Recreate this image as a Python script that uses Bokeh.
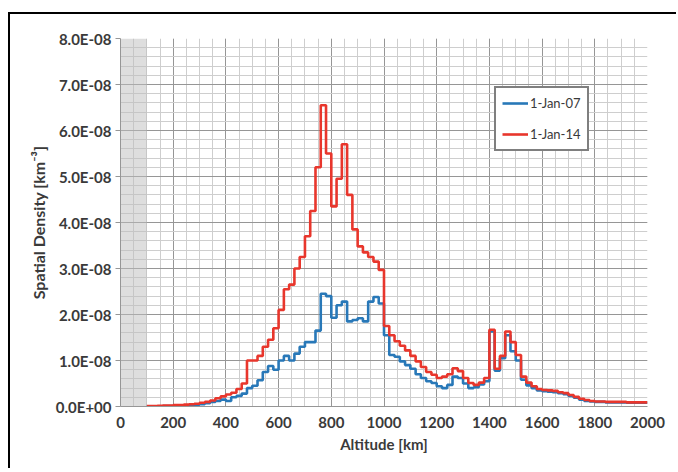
from bokeh.plotting import figure
from bokeh.models import Range1d, FixedTicker, CustomJSTickFormatter, Legend, LegendItem
from bokeh.embed import file_html
from bokeh.resources import INLINE

# Altitude bin starts [km] (20 km bins, 100-2000 km)
bin_start = list(range(100, 2000, 20))
bin_width = 20

# Spatial density in units of 1e-8 km^-3
jan07 = [0.005, 0.005, 0.005, 0.01, 0.01, 0.015, 0.02, 0.025, 0.03, 0.04,
         0.05, 0.07, 0.10, 0.12, 0.15, 0.12, 0.20, 0.23, 0.28, 0.40,
         0.45, 0.57, 0.75, 0.88, 0.80, 1.00, 1.10, 1.00, 1.15, 1.30,
         1.40, 1.40, 1.65, 2.45, 2.40, 1.93, 2.20, 2.28, 1.85, 1.88,
         1.92, 1.85, 2.28, 2.38, 2.24, 1.55, 1.12, 1.08, 0.98, 0.90,
         0.82, 0.70, 0.62, 0.55, 0.51, 0.44, 0.40, 0.47, 0.65, 0.62,
         0.50, 0.40, 0.42, 0.48, 0.55, 1.63, 0.78, 1.05, 1.55, 1.20,
         1.00, 0.58, 0.46, 0.40, 0.35, 0.33, 0.32, 0.31, 0.29, 0.27,
         0.23, 0.19, 0.15, 0.12, 0.11, 0.10, 0.10, 0.09, 0.09, 0.09,
         0.09, 0.08, 0.08, 0.08, 0.08]
jan14 = [0.01, 0.01, 0.015, 0.02, 0.02, 0.03, 0.03, 0.04, 0.05, 0.06,
         0.08, 0.10, 0.13, 0.18, 0.22, 0.26, 0.30, 0.38, 0.50, 1.00,
         1.00, 1.10, 1.30, 1.45, 1.70, 2.10, 2.55, 2.65, 3.00, 3.25,
         3.70, 4.25, 5.20, 6.55, 5.50, 4.35, 4.95, 5.70, 4.60, 3.85,
         3.48, 3.35, 3.25, 3.15, 2.97, 1.75, 1.55, 1.42, 1.32, 1.22,
         1.10, 0.98, 0.86, 0.75, 0.69, 0.62, 0.65, 0.70, 0.83, 0.77,
         0.62, 0.51, 0.47, 0.52, 0.62, 1.67, 0.82, 1.10, 1.63, 1.40,
         1.12, 0.65, 0.52, 0.44, 0.38, 0.36, 0.35, 0.34, 0.31, 0.29,
         0.25, 0.21, 0.17, 0.14, 0.12, 0.11, 0.11, 0.10, 0.10, 0.10,
         0.10, 0.09, 0.09, 0.09, 0.09]
series_names = ["1-Jan-07", "1-Jan-14"]
series_colors = ["#2878b8", "#e8362c"]
scale = 1e-8

x_ticks = list(range(0, 2001, 200))
x_minor = list(range(0, 2001, 50))
y_ticks = [i * scale for i in range(9)]
y_minor = [i * 0.2 * scale for i in range(41)]

FONT = "Lato"
TXT = "#3a3a3a"

p = figure(frame_width=527, frame_height=368, min_border_left=110, min_border_right=29,
           min_border_top=24, min_border_bottom=62,
           output_backend="svg", toolbar_location=None,
           x_range=Range1d(0, 2000), y_range=Range1d(0, 8 * scale))
p.styles = {"border-top": "2px solid black", "border-left": "2px solid black",
            "margin-top": "12px", "margin-left": "8px"}
p.outline_line_color = None
p.background_fill_color = "white"
p.border_fill_color = "white"

# shaded region below 100 km
p.quad(left=[0], right=[bin_start[0]], bottom=[0], top=[8 * scale],
       fill_color="#bdbdbd", fill_alpha=0.5, line_color=None)

renderers = []
for vals, name, col in zip([jan07, jan14], series_names, series_colors):
    xs = bin_start + [bin_start[-1] + bin_width]
    ys = [v * scale for v in vals] + [vals[-1] * scale]
    r = p.step(xs, ys, mode="after", line_color=col, line_width=2.6)
    renderers.append((name, r))

p.xaxis.ticker = FixedTicker(ticks=x_ticks, minor_ticks=x_minor)
p.yaxis.ticker = FixedTicker(ticks=y_ticks, minor_ticks=y_minor)
p.yaxis.formatter = CustomJSTickFormatter(code="""
var s = tick.toExponential(1); var parts = s.split('e');
var e = parseInt(parts[1]); var sign = e < 0 ? '-' : '+'; var a = Math.abs(e);
return parts[0] + 'E' + sign + (a < 10 ? '0' : '') + a;
""")

for g in (p.xgrid, p.ygrid):
    g.grid_line_color = "#969696"
    g.grid_line_width = 1
    g.minor_grid_line_color = "#cecece"
    g.minor_grid_line_width = 1

for ax in (p.xaxis, p.yaxis):
    ax.axis_line_color = "#969696"
    ax.major_tick_line_color = "#969696"
    ax.major_tick_in = 0
    ax.major_tick_out = 5
    ax.minor_tick_line_color = None
    ax.major_label_text_font = FONT
    ax.major_label_text_font_style = "bold"
    ax.major_label_text_font_size = "15px"
    ax.major_label_text_color = TXT
    ax.axis_label_text_font = FONT
    ax.axis_label_text_font_style = "bold"
    ax.axis_label_text_font_size = "15px"
    ax.axis_label_text_color = TXT

p.xaxis.major_tick_out = 0
p.xaxis.major_label_standoff = 6
p.xaxis.axis_label = "Altitude [km]"
p.xaxis.axis_label_standoff = 4
p.yaxis.axis_label = "Spatial Density [km\u207b\u00b3]"
p.yaxis.axis_label_text_font_size = "16px"
p.yaxis.major_label_standoff = 4
p.yaxis.axis_label_standoff = 5

legend = Legend(items=[LegendItem(label=n, renderers=[r]) for n, r in renderers],
                location=(374, 255))
legend.border_line_color = "black"
legend.border_line_width = 2
legend.background_fill_color = "white"
legend.background_fill_alpha = 1
legend.label_text_font = FONT
legend.label_text_font_size = "13px"
legend.label_text_color = TXT
legend.glyph_width = 26
legend.glyph_height = 18
legend.label_height = 18
legend.label_standoff = 2
legend.spacing = 13
legend.padding = 6
legend.margin = 0
p.add_layout(legend, "center")

open("out.html", "w").write(file_html(p, INLINE))
